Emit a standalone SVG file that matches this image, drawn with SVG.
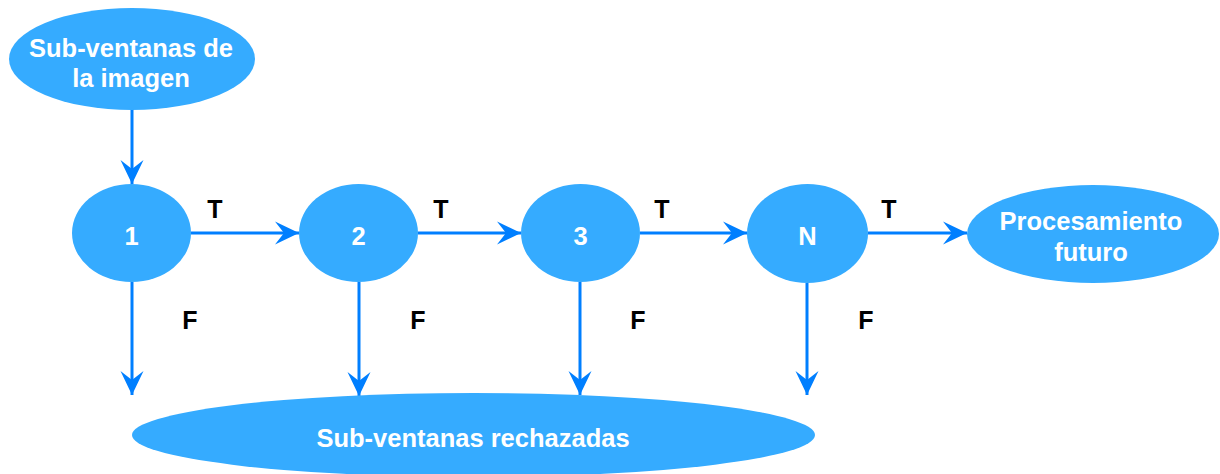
<svg xmlns="http://www.w3.org/2000/svg" width="1220" height="474" viewBox="0 0 1220 474">
<style>
.n{fill:#35ABFF;stroke:none}
.t{font-family:"Liberation Sans",Arial,sans-serif;font-weight:bold;font-size:25.5px;fill:#FFFFFF;text-anchor:middle}
.l{font-family:"Liberation Sans",Arial,sans-serif;font-weight:bold;font-size:25px;fill:#000000;text-anchor:middle}
.e{fill:none;stroke:#007FFF;stroke-width:3}
</style>
<defs>
<marker id="ah" markerUnits="userSpaceOnUse" viewBox="-25 -13 26 26" refX="0" refY="0" markerWidth="26" markerHeight="26" orient="auto">
<path d="M0,0 L-24,-11.5 L-15,0 L-24,11.5 Z" fill="#007FFF"/>
</marker>
</defs>
<rect width="1220" height="474" fill="#FFFFFF"/>
<g id="connectors">
<line class="e" x1="132" y1="110" x2="132" y2="184" marker-end="url(#ah)"/>
<line class="e" x1="191" y1="233" x2="299" y2="233" marker-end="url(#ah)"/>
<line class="e" x1="418" y1="233" x2="521" y2="233" marker-end="url(#ah)"/>
<line class="e" x1="640" y1="233" x2="747" y2="233" marker-end="url(#ah)"/>
<line class="e" x1="868" y1="233" x2="967" y2="233" marker-end="url(#ah)"/>
<line class="e" x1="132" y1="282" x2="132" y2="395" marker-end="url(#ah)"/>
<line class="e" x1="359" y1="282" x2="359" y2="396" marker-end="url(#ah)"/>
<line class="e" x1="580" y1="282" x2="580" y2="395" marker-end="url(#ah)"/>
<line class="e" x1="807" y1="283" x2="807" y2="395" marker-end="url(#ah)"/>
<text class="l" x="215" y="218">T</text>
<text class="l" x="441" y="218">T</text>
<text class="l" x="662" y="218">T</text>
<text class="l" x="889" y="218">T</text>
<text class="l" x="190" y="329">F</text>
<text class="l" x="418" y="329">F</text>
<text class="l" x="638" y="329">F</text>
<text class="l" x="866" y="329">F</text>
</g>
<g id="sub-ventanas-imagen">
<ellipse class="n" cx="132" cy="59" rx="123" ry="51"/>
<text class="t" x="131" y="57">Sub-ventanas de</text>
<text class="t" x="131" y="87">la imagen</text>
</g>
<g id="n1">
<ellipse class="n" cx="131.5" cy="233" rx="59.5" ry="49"/>
<text class="t" x="131.5" y="245">1</text>
</g>
<g id="n2">
<ellipse class="n" cx="358.5" cy="233" rx="59.5" ry="49"/>
<text class="t" x="358.5" y="245">2</text>
</g>
<g id="n3">
<ellipse class="n" cx="580.5" cy="233" rx="59.5" ry="49"/>
<text class="t" x="580.5" y="245">3</text>
</g>
<g id="nN">
<ellipse class="n" cx="807.5" cy="233.5" rx="60.5" ry="49.5"/>
<text class="t" x="807.5" y="245">N</text>
</g>
<g id="procesamiento">
<ellipse class="n" cx="1093" cy="234" rx="126" ry="49"/>
<text class="t" x="1091" y="230">Procesamiento</text>
<text class="t" x="1091" y="261">futuro</text>
</g>
<g id="rechazadas">
<ellipse class="n" cx="473.5" cy="435" rx="341.5" ry="42"/>
<text class="t" x="473" y="447">Sub-ventanas rechazadas</text>
</g>
</svg>
